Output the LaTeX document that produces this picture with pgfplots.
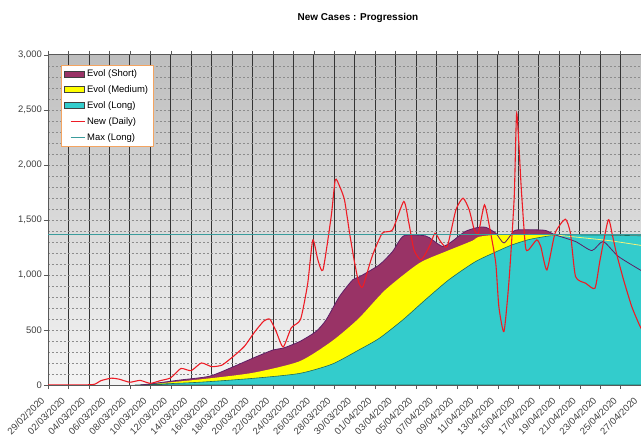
\documentclass[border=0pt]{standalone}
\usepackage{pgfplots}
\pgfplotsset{compat=1.18}
\usepackage{fontspec}
\setmainfont{Liberation Sans}
\definecolor{cShort}{HTML}{993366}
\definecolor{cShortLine}{HTML}{5E1F66}
\definecolor{cMed}{HTML}{FFFF00}
\definecolor{cMedLine}{HTML}{F2F27A}
\definecolor{cLong}{HTML}{33CCCC}
\definecolor{cLongLine}{HTML}{1E6B5A}
\definecolor{cNew}{HTML}{EE1C25}
\definecolor{cMax}{HTML}{3A9C9C}
\definecolor{cLeg}{HTML}{F4A460}
\definecolor{cBgTop}{HTML}{BEBEBE}
\definecolor{cBgBot}{HTML}{F4F4F4}
\pgfplotsset{
  arealeg/.style={legend image code/.code={\draw[fill=#1, draw=black!75, line width=0.5pt] (0bp,-3bp) rectangle (20bp,3bp);}},
}
\begin{document}
\begin{tikzpicture}
\path[use as bounding box] (0,0) rectangle (641bp,437bp);
\node[font=\bfseries\fontsize{10}{12}\selectfont] at (358bp,419bp) {New Cases : Progression};
\begin{axis}[
  at={(48bp,52bp)}, anchor=south west,
  scale only axis, width=595bp, height=330.3bp,
  xmin=0, xmax=58.2, ymin=0, ymax=3000,
  axis background/.style={shade, top color=cBgTop, bottom color=cBgBot},
  axis line style={black!65},
  xtick={0,2,...,58},
  xticklabels={29/02/2020,02/03/2020,04/03/2020,06/03/2020,08/03/2020,10/03/2020,12/03/2020,14/03/2020,16/03/2020,18/03/2020,20/03/2020,22/03/2020,24/03/2020,26/03/2020,28/03/2020,30/03/2020,01/04/2020,03/04/2020,05/04/2020,07/04/2020,09/04/2020,11/04/2020,13/04/2020,15/04/2020,17/04/2020,19/04/2020,21/04/2020,23/04/2020,25/04/2020,27/04/2020},
  ytick={0,500,...,3000},
  minor y tick num=4,
  minor tick length=0pt,
  major tick length=4bp,
  tick align=outside,
  tick style={black!65},
  xmajorgrids, ymajorgrids, yminorgrids,
  major x grid style={black!80, line width=0.7pt},
  major y grid style={black!45, dash pattern=on 2pt off 2pt},
  minor y grid style={black!45, dash pattern=on 2pt off 2pt},
  /pgf/number format/assume math mode=true,
  /pgf/number format/1000 sep={,},
  yticklabel style={font=\fontsize{9.5}{11}\selectfont, text=black!75, inner sep=2pt},
  xticklabel style={font=\fontsize{9.6}{11}\selectfont, text=black!75, rotate=45, anchor=north east, inner sep=0.5pt, xshift=-10bp, yshift=1bp},
  legend style={at={(rel axis cs:0.0213,0.969)}, anchor=north west, draw=cLeg, fill=white,
    font=\fontsize{9.5}{11}\selectfont, inner xsep=3.5pt, inner ysep=2.5pt, row sep=3.6pt},
  legend cell align=left,
]
% Evol (Short)
\addplot[fill=cShort, draw=none, smooth, tension=0.4, arealeg=cShort] coordinates {
(9,0) (10,10) (12.9,45) (15.8,80) (18.1,165) (20,242) (22,318) (23,335) (24.6,394) (26.2,485) (27.2,591) (28.5,803) (29.8,955) (30.4,980) (32.4,1091) (33.7,1212) (34.8,1355) (36.9,1355) (37.6,1318) (38.6,1258) (39.5,1303) (40.8,1394) (42,1430) (42.8,1433) (43.8,1379) (44.6,1290) (45.6,1400) (46.5,1410) (48.6,1405) (49.6,1364) (51.6,1303) (53.2,1221) (54.3,1303) (55.8,1167) (58.2,1030)
} \closedcycle;
\addlegendentry{Evol (Short)}
% Evol (Medium)
\addplot[fill=cMed, draw=none, smooth, tension=0.4, arealeg=cMed] coordinates {
(9,0) (10,8) (14.8,50) (20,110) (24.6,215) (27.8,400) (30.4,605) (33,864) (36.3,1106) (38.9,1212) (41.5,1310) (42.1,1345) (43.8,1364) (47,1368) (49.6,1362) (52,1340) (55,1310) (58.2,1265)
} \closedcycle;
\addlegendentry{Evol (Medium)}
% Evol (Long)
\addplot[fill=cLong, draw=cLongLine, line width=0.6pt, smooth, tension=0.4, arealeg=cLong] coordinates {
(8.5,0) (10,5) (14.8,25) (20,60) (24.6,105) (27.8,190) (30.4,318) (32.4,424) (34.7,591) (36.9,773) (39.2,955) (41.8,1120) (44.1,1221) (45.4,1273) (47,1320) (48.6,1348) (50,1362) (54,1362) (58.2,1355)
} \closedcycle;
\addlegendentry{Evol (Long)}
% outlines drawn over the fills
\addplot[cMedLine, line width=0.8pt, smooth, tension=0.4, forget plot] coordinates {
(47,1368) (49.6,1362) (52,1340) (55,1310) (58.2,1265)
};
\addplot[cShortLine, line width=0.8pt, smooth, tension=0.4, forget plot] coordinates {
(9,0) (10,10) (12.9,45) (15.8,80) (18.1,165) (20,242) (22,318) (23,335) (24.6,394) (26.2,485) (27.2,591) (28.5,803) (29.8,955) (30.4,980) (32.4,1091) (33.7,1212) (34.8,1355) (36.9,1355) (37.6,1318) (38.6,1258) (39.5,1303) (40.8,1394) (42,1430) (42.8,1433) (43.8,1379) (44.6,1290) (45.6,1400) (46.5,1410) (48.6,1405) (49.6,1364) (51.6,1303) (53.2,1221) (54.3,1303) (55.8,1167) (58.2,1030)
};
% New (Daily)
\addplot[color=cNew, line width=1.1pt, smooth, tension=0.35,
  legend image code/.code={\draw[color=cNew, draw=cNew, line width=1.1pt] (6bp,0bp) -- (20bp,0bp);}] coordinates {
(0,0) (2,0) (4,2) (4.6,8) (5.2,40) (6.2,62) (7,52) (8,25) (9,42) (10,15) (11,40) (12,65) (13,150) (14,130) (15,200) (16,167) (17,180) (18,250) (19.2,350) (20.2,480) (21.1,580) (21.7,598) (22.3,490) (23,345) (23.8,520) (24.7,595) (25.4,920) (25.9,1318) (26.4,1136) (26.9,1045) (27.7,1530) (28.1,1864) (28.5,1810) (29,1682) (29.5,1379) (30,1106) (30.4,930) (30.8,894) (31.7,1167) (32.7,1379) (33.7,1409) (34.8,1667) (35.3,1470) (35.8,1227) (36.5,1136) (37.3,1258) (37.85,1379) (38.4,1303) (39.05,1258) (39.9,1591) (40.6,1697) (41.2,1591) (41.7,1409) (42.1,1379) (42.7,1636) (43.3,1379) (43.8,1106) (44.1,712) (44.6,485) (45.1,955) (45.6,1700) (45.85,2470) (46.3,1773) (46.7,1258) (47.0,1227) (47.8,1318) (48.2,1258) (48.8,1045) (49.6,1379) (50.6,1506) (51.1,1379) (51.6,985) (52.6,924) (53.5,879) (54.0,1136) (54.8,1500) (55.2,1364) (55.6,1197) (56.3,955) (57.1,712) (57.85,545) (58.2,480)
};
\addlegendentry{New (Daily)}
% Max (Long)
\addplot[color=cMax, line width=0.7pt,
  legend image code/.code={\draw[color=cMax, draw=cMax, line width=0.9pt] (6bp,0bp) -- (20bp,0bp);}] coordinates {(0,1365) (58.2,1365)};
\addlegendentry{Max (Long)}
\end{axis}
\end{tikzpicture}
\end{document}
